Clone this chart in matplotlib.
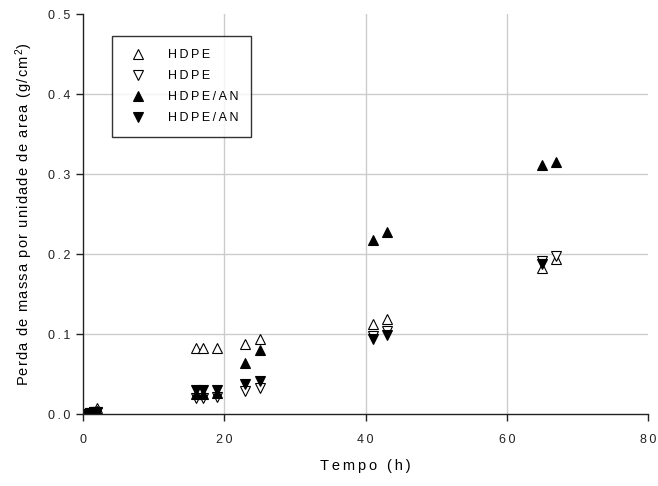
import matplotlib
matplotlib.use('Agg')
import matplotlib.pyplot as plt

plt.rcParams['font.family'] = ['Liberation Sans', 'DejaVu Sans']
plt.rcParams['mathtext.fontset'] = 'custom'
plt.rcParams['mathtext.rm'] = 'Liberation Sans'
plt.rcParams['mathtext.it'] = 'Liberation Sans'

# open up triangles (HDPE)
t_hdpe_a = [0.5, 1.0, 1.5, 2.0, 16, 17, 19, 23, 25, 41, 43, 65, 67]
m_hdpe_a = [0.000, 0.001, 0.003, 0.008, 0.083, 0.083, 0.083, 0.088, 0.094, 0.112, 0.119, 0.183, 0.194]
# open down triangles (HDPE)
t_hdpe_b = [0.5, 1.0, 1.5, 2.0, 16, 17, 19, 23, 25, 41, 43, 65, 67]
m_hdpe_b = [0.000, 0.001, 0.002, 0.003, 0.020, 0.020, 0.021, 0.029, 0.033, 0.097, 0.104, 0.191, 0.198]
# filled up triangles (HDPE/AN)
t_an_a = [0.5, 1.0, 1.5, 2.0, 16, 17, 19, 23, 25, 41, 43, 65, 67]
m_an_a = [0.000, 0.001, 0.002, 0.004, 0.025, 0.025, 0.026, 0.064, 0.080, 0.217, 0.227, 0.311, 0.315]
# filled down triangles (HDPE/AN)
t_an_b = [0.5, 1.0, 1.5, 2.0, 16, 17, 19, 23, 25, 41, 43, 65]
m_an_b = [0.000, 0.001, 0.002, 0.003, 0.030, 0.030, 0.030, 0.037, 0.041, 0.094, 0.099, 0.187]

labels = ['HDPE', 'HDPE', 'HDPE/AN', 'HDPE/AN']
xticks = [0, 20, 40, 60, 80]
yticks = [0.0, 0.1, 0.2, 0.3, 0.4, 0.5]


def spaced(s, sp='\u2009'):
    # wide letter spacing like the original program
    return sp.join(s)


fig = plt.figure(figsize=(6.58, 4.86), dpi=100)
ax = fig.add_axes([0.126, 0.148, 0.859, 0.823])

ms = 7.5
ax.plot(t_hdpe_a, m_hdpe_a, '^', ms=ms, mfc='white', mec='black', mew=0.8, ls='none', label=spaced(labels[0]))
ax.plot(t_hdpe_b, m_hdpe_b, 'v', ms=ms, mfc='white', mec='black', mew=0.8, ls='none', label=spaced(labels[1]))
ax.plot(t_an_a, m_an_a, '^', ms=ms, mfc='black', mec='black', mew=0.8, ls='none', label=spaced(labels[2]))
ax.plot(t_an_b, m_an_b, 'v', ms=ms, mfc='black', mec='black', mew=0.8, ls='none', label=spaced(labels[3]))

ax.set_xlim(0, 80)
ax.set_ylim(0, 0.5)
ax.set_xticks(xticks)
ax.set_xticklabels([spaced(str(v)) for v in xticks])
ax.set_yticks(yticks)
ax.set_yticklabels([spaced('%.1f' % v) for v in yticks])

ax.grid(True, color='#cccccc', lw=1.0)
ax.set_axisbelow(True)
ax.xaxis.get_gridlines()[0].set_visible(False)
ax.xaxis.get_gridlines()[-1].set_visible(False)
ax.yaxis.get_gridlines()[0].set_visible(False)
ax.yaxis.get_gridlines()[-1].set_visible(False)

for s in ['top', 'right']:
    ax.spines[s].set_visible(False)
for s in ['left', 'bottom']:
    ax.spines[s].set_linewidth(1.0)
    ax.spines[s].set_color('#222222')

ax.tick_params(direction='out', length=5, width=1, labelsize=9, colors='#222222')
ax.tick_params(axis='y', pad=4)
ax.tick_params(axis='x', pad=9)

ax.set_xlabel(spaced('Tempo (h)'), fontsize=10.5)
ax.xaxis.set_label_coords(0.5, -0.112)
ax.set_ylabel(spaced('Perda de massa por unidade de area (g/cm', '\u200a') + r'$^{\,2}$)',
              fontsize=10.5)
ax.yaxis.set_label_coords(-0.085, 0.5)

leg = ax.legend(loc='upper left', bbox_to_anchor=(0.0513, 0.945), fontsize=9,
                frameon=True, fancybox=False, edgecolor='black', borderpad=1.05,
                handletextpad=1.4, labelspacing=0.72, borderaxespad=0)
leg.get_frame().set_linewidth(1.0)

fig.savefig('out.png', dpi=100)
